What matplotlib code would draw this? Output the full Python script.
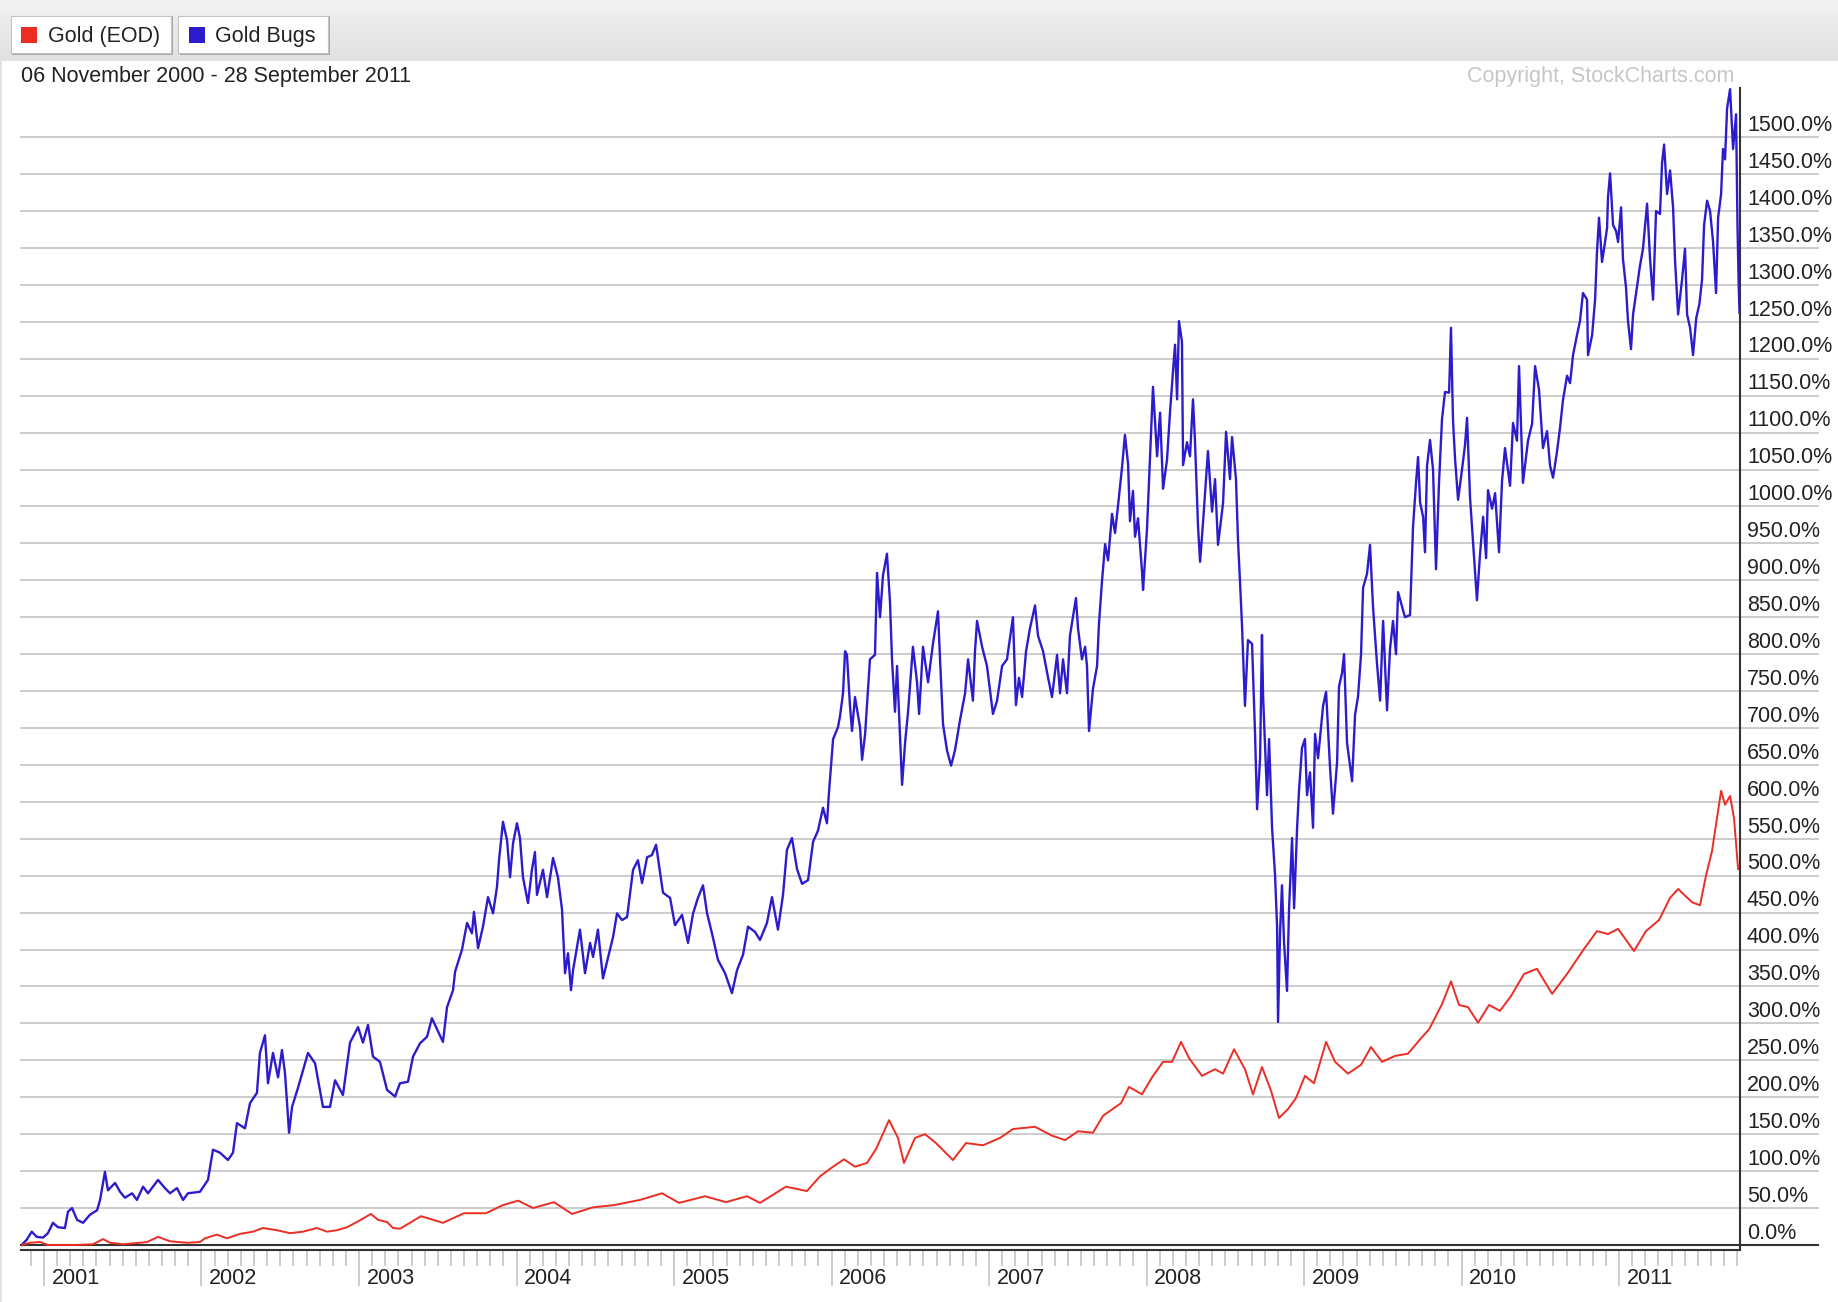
import matplotlib
matplotlib.use('Agg')
import matplotlib.pyplot as plt
import numpy as np
from matplotlib.patches import Rectangle
from matplotlib.lines import Line2D
from matplotlib.colors import LinearSegmentedColormap

plt.rcParams['font.family'] = ['Liberation Sans', 'DejaVu Sans']

# ---- data (decimal year, % change since 06 Nov 2000) ----
gold_t = [2000.86, 2000.911, 2000.975, 2001.025, 2001.102, 2001.21, 2001.311, 2001.375, 2001.419,
          2001.502, 2001.61, 2001.654, 2001.724, 2001.8, 2001.908, 2001.99, 2002.022, 2002.098,
          2002.162, 2002.244, 2002.327, 2002.39, 2002.479, 2002.562, 2002.644, 2002.733, 2002.797,
          2002.86, 2002.924, 2002.994, 2003.076, 2003.121, 2003.178, 2003.216, 2003.26, 2003.394,
          2003.533, 2003.667, 2003.806, 2003.914, 2004.01, 2004.105, 2004.238, 2004.352, 2004.486,
          2004.619, 2004.784, 2004.924, 2005.032, 2005.197, 2005.33, 2005.463, 2005.546, 2005.711,
          2005.844, 2005.927, 2006.01, 2006.079, 2006.149, 2006.225, 2006.283, 2006.365, 2006.422,
          2006.46, 2006.53, 2006.594, 2006.663, 2006.771, 2006.854, 2006.962, 2007.07, 2007.152,
          2007.292, 2007.4, 2007.483, 2007.565, 2007.66, 2007.724, 2007.838, 2007.889, 2007.971,
          2008.041, 2008.105, 2008.162, 2008.219, 2008.27, 2008.352, 2008.435, 2008.486, 2008.556,
          2008.625, 2008.676, 2008.733, 2008.79, 2008.841, 2008.898, 2008.949, 2009.006, 2009.063,
          2009.14, 2009.197, 2009.279, 2009.362, 2009.425, 2009.495, 2009.578, 2009.66, 2009.743,
          2009.794, 2009.876, 2009.933, 2009.984, 2010.041, 2010.105, 2010.175, 2010.244, 2010.314,
          2010.397, 2010.479, 2010.575, 2010.67, 2010.778, 2010.86, 2010.93, 2010.994, 2011.095,
          2011.171, 2011.254, 2011.324, 2011.375, 2011.464, 2011.514, 2011.552, 2011.59, 2011.622,
          2011.648, 2011.673, 2011.705, 2011.73, 2011.756]
gold_v = [0, 3, 4, 0, 0, 0, 1, 8, 3,
          1, 3, 4, 11, 5, 3, 4, 9, 14,
          9, 15, 18, 23, 20, 16, 18, 23, 18,
          20, 24, 32, 42, 34, 31, 23, 22, 39,
          30, 43, 43, 54, 60, 50, 58, 42, 51,
          54, 61, 70, 57, 66, 58, 66, 57, 79,
          73, 93, 106, 116, 106, 111, 130, 169, 145,
          111, 145, 150, 138, 115, 138, 135, 145, 157,
          160, 148, 142, 154, 152, 175, 192, 214, 204,
          229, 248, 248, 275, 253, 229, 238, 232, 265,
          238, 204, 241, 209, 172, 184, 199, 229, 219,
          275, 248, 232, 244, 268, 248, 256, 259, 280,
          292, 326, 357, 325, 322, 301, 325, 317, 337,
          367, 374, 340, 367, 401, 425, 421, 428, 398,
          425, 440, 470, 482, 464, 460, 500, 533, 578,
          615, 596, 608, 578, 509]

bugs_t = [2000.858, 2000.89, 2000.922, 2000.954, 2000.994, 2001.025, 2001.057, 2001.089, 2001.133,
          2001.152, 2001.178, 2001.21, 2001.248, 2001.292, 2001.337, 2001.356, 2001.387, 2001.406,
          2001.451, 2001.483, 2001.514, 2001.559, 2001.59, 2001.629, 2001.66, 2001.724, 2001.768,
          2001.8, 2001.844, 2001.883, 2001.914, 2001.99, 2002.041, 2002.073, 2002.117, 2002.168,
          2002.2, 2002.225, 2002.276, 2002.308, 2002.352, 2002.371, 2002.403, 2002.422, 2002.454,
          2002.486, 2002.511, 2002.53, 2002.556, 2002.575, 2002.613, 2002.676, 2002.721, 2002.771,
          2002.816, 2002.848, 2002.898, 2002.943, 2002.994, 2003.025, 2003.057, 2003.089, 2003.133,
          2003.178, 2003.229,
          2003.26, 2003.311, 2003.343, 2003.387, 2003.432, 2003.463, 2003.533, 2003.559, 2003.597,
          2003.61, 2003.654, 2003.686, 2003.717, 2003.73, 2003.756, 2003.787, 2003.819, 2003.851,
          2003.876, 2003.889, 2003.914, 2003.94, 2003.959, 2003.978, 2004.003, 2004.022, 2004.041,
          2004.073, 2004.098, 2004.117, 2004.13, 2004.168, 2004.194, 2004.232, 2004.263, 2004.289,
          2004.308, 2004.327, 2004.346, 2004.359, 2004.403, 2004.435, 2004.467, 2004.486, 2004.517,
          2004.549, 2004.581, 2004.613, 2004.638, 2004.67, 2004.702, 2004.74, 2004.771, 2004.797,
          2004.829, 2004.86, 2004.886, 2004.93, 2004.975, 2005.006, 2005.051, 2005.089, 2005.121,
          2005.152, 2005.184, 2005.21, 2005.241, 2005.279, 2005.324, 2005.368, 2005.4, 2005.438,
          2005.47, 2005.514, 2005.546, 2005.59, 2005.622, 2005.66,
          2005.692, 2005.717, 2005.749, 2005.781, 2005.813, 2005.851, 2005.883, 2005.914, 2005.946,
          2005.971, 2005.984, 2006.01, 2006.041, 2006.054, 2006.073, 2006.086, 2006.098, 2006.117,
          2006.13, 2006.149, 2006.181, 2006.194, 2006.213, 2006.225, 2006.244, 2006.276, 2006.289,
          2006.308, 2006.327, 2006.352, 2006.371, 2006.384, 2006.403, 2006.416, 2006.448, 2006.467,
          2006.486, 2006.517, 2006.543, 2006.556, 2006.581, 2006.613, 2006.644, 2006.676, 2006.689,
          2006.708, 2006.733, 2006.759, 2006.784, 2006.816, 2006.848, 2006.867, 2006.898, 2006.911,
          2006.924, 2006.956, 2006.987, 2007.025, 2007.051, 2007.083, 2007.114, 2007.152, 2007.171,
          2007.19, 2007.21, 2007.235, 2007.26, 2007.292, 2007.311, 2007.343, 2007.375, 2007.4,
          2007.432, 2007.451, 2007.47, 2007.495, 2007.514, 2007.552, 2007.565, 2007.59, 2007.61,
          2007.622, 2007.635, 2007.66, 2007.686, 2007.698, 2007.717, 2007.737, 2007.756, 2007.781,
          2007.8, 2007.819, 2007.844, 2007.863, 2007.883, 2007.895, 2007.914, 2007.927, 2007.946,
          2007.971, 2007.978, 2008.003,
          2008.041, 2008.067, 2008.086, 2008.105, 2008.13, 2008.149, 2008.168, 2008.181, 2008.194,
          2008.206, 2008.225, 2008.232, 2008.257, 2008.276, 2008.295, 2008.308, 2008.327, 2008.34,
          2008.359, 2008.39, 2008.416, 2008.435, 2008.454, 2008.486, 2008.505, 2008.53, 2008.543,
          2008.568, 2008.581, 2008.594, 2008.606, 2008.625, 2008.644, 2008.67, 2008.689, 2008.702,
          2008.721, 2008.733, 2008.74, 2008.765, 2008.778, 2008.797, 2008.816, 2008.829, 2008.835,
          2008.848, 2008.86, 2008.873, 2008.892, 2008.905, 2008.924, 2008.937, 2008.956, 2008.968,
          2008.987, 2009.006, 2009.019, 2009.038, 2009.057, 2009.07, 2009.089, 2009.121, 2009.14,
          2009.165, 2009.184, 2009.21, 2009.222, 2009.241, 2009.254, 2009.273, 2009.305, 2009.324,
          2009.343, 2009.362, 2009.375, 2009.4, 2009.419, 2009.438, 2009.463, 2009.483, 2009.502,
          2009.527, 2009.546, 2009.565, 2009.584, 2009.597,
          2009.641, 2009.673, 2009.692, 2009.711, 2009.724, 2009.737, 2009.756, 2009.768, 2009.781,
          2009.8, 2009.819, 2009.838, 2009.857, 2009.876, 2009.895, 2009.921, 2009.933, 2009.946,
          2009.959, 2009.978, 2010.003, 2010.022, 2010.035, 2010.054, 2010.079, 2010.098, 2010.117,
          2010.137, 2010.156, 2010.168, 2010.194, 2010.213, 2010.238, 2010.257, 2010.276, 2010.308,
          2010.327, 2010.352, 2010.365, 2010.39, 2010.422, 2010.448, 2010.467, 2010.492, 2010.517,
          2010.543, 2010.562, 2010.581, 2010.606, 2010.625, 2010.644, 2010.67, 2010.689, 2010.708,
          2010.733, 2010.752, 2010.771, 2010.797, 2010.803, 2010.829, 2010.848, 2010.86, 2010.873,
          2010.892, 2010.905, 2010.924, 2010.93, 2010.943, 2010.962, 2010.981, 2010.994, 2011.013,
          2011.025, 2011.044, 2011.057, 2011.076, 2011.089, 2011.114, 2011.133, 2011.152, 2011.178,
          2011.197, 2011.216, 2011.235, 2011.26, 2011.273, 2011.286, 2011.305, 2011.324, 2011.343,
          2011.356, 2011.375, 2011.4, 2011.419, 2011.432, 2011.451, 2011.47, 2011.49, 2011.51,
          2011.527, 2011.54, 2011.559, 2011.578, 2011.597, 2011.616, 2011.629, 2011.648, 2011.66,
          2011.673, 2011.686, 2011.705, 2011.724, 2011.743, 2011.752, 2011.76, 2011.765]
bugs_v = [0, 7, 18, 11, 10, 16, 30, 24, 23,
          45, 50, 34, 30, 41, 47, 61, 99, 74,
          84, 72, 64, 70, 61, 79, 70, 88, 77,
          70, 77, 61, 70, 72, 88, 129, 125, 115,
          125, 165, 158, 192, 206, 260, 284, 219, 260,
          227, 264, 233, 152, 187, 213, 260, 246, 187,
          187, 223, 203, 274, 295, 274, 298, 255, 248,
          210, 201,
          219, 221, 255, 273, 282, 307, 275, 322, 345,
          370, 400, 436, 422, 451, 402, 431, 471, 449,
          485, 521, 573, 548, 498, 544, 571, 551, 498,
          463, 508, 532, 474, 508, 471, 524, 498, 454,
          368, 395, 345, 372, 427, 368, 409, 390, 427,
          361, 389, 417, 449, 440, 444, 508, 521, 490,
          525, 528, 542, 477, 470, 433, 447, 409, 449,
          470, 487, 449, 422, 386, 368, 341, 372, 393,
          431, 424, 413, 436, 471, 427,
          474, 535, 551, 509, 489, 494, 546, 561, 592,
          571, 613, 685, 701, 716, 747, 804, 799, 731,
          696, 742, 701, 657, 691, 731, 793, 799, 910,
          850, 907, 936, 872, 793, 722, 784, 623, 680,
          722, 810, 762, 719, 810, 762, 814, 858, 793,
          705, 670, 649, 670, 711, 747, 793, 737, 804,
          845, 810, 784, 719, 737, 784, 793, 850, 731,
          768, 742, 804, 835, 866, 825, 804, 768, 742,
          799, 747, 793, 747, 825, 876, 835, 793, 810,
          784, 696, 753, 784, 841, 898, 949, 927, 990,
          964, 1001, 1052, 1097, 1057, 980, 1021, 959, 984,
          913, 887, 969,
          1162, 1068, 1127, 1024, 1063, 1127, 1183, 1219, 1145,
          1251, 1223, 1056, 1087, 1068, 1145, 1087, 973, 925,
          979, 1075, 993, 1037, 948, 1005, 1101, 1037, 1094,
          1037, 953, 896, 840, 730, 819, 814, 692, 590,
          659, 826, 743, 609, 685, 565, 501, 431, 302,
          424, 487, 410, 344, 456, 551, 456, 565, 615,
          673, 685, 609, 640, 565, 692, 659, 730, 749,
          647, 584, 654, 756, 774, 800, 680, 628, 718,
          743, 800, 890, 909, 948, 864, 788, 737, 845,
          724, 807, 845, 800, 884,
          850, 853, 972, 1032, 1067, 1005, 986, 938, 1055,
          1090, 1050, 915, 1032, 1118, 1155, 1154, 1242, 1116,
          1064, 1009, 1050, 1083, 1120, 1012, 934, 873, 934,
          986, 930, 1022, 997, 1018, 938, 1034, 1079, 1028,
          1113, 1089, 1190, 1032, 1089, 1112, 1190, 1158, 1079,
          1102, 1055, 1039, 1074, 1106, 1144, 1177, 1167, 1205,
          1232, 1251, 1289, 1280, 1205, 1232, 1280, 1345, 1391,
          1331, 1349, 1377, 1419, 1451, 1381, 1373, 1358, 1405,
          1335, 1297, 1251, 1213, 1260, 1297, 1326, 1349, 1410,
          1335, 1280, 1400, 1396, 1465, 1490, 1423, 1455, 1405,
          1331, 1260, 1307, 1349, 1260, 1242, 1205, 1255, 1274,
          1307, 1381, 1414, 1400, 1358, 1289, 1391, 1423, 1484,
          1470, 1539, 1565, 1484, 1531, 1381, 1297, 1262]

series_names = ['Gold (EOD)', 'Gold Bugs']
series_colors = ['#ec2d24', '#2c1ccc']
grid_levels = list(range(0, 1501, 50))
years = list(range(2001, 2012))
date_range = '06 November 2000 - 28 September 2011'
credit = 'Copyright, StockCharts.com'

W, H = 1838, 1302
fig = plt.figure(figsize=(W / 100, H / 100), dpi=100)
fig.patch.set_facecolor('white')


def fx(x):
    return x / W


def fy(y):
    return 1 - y / H


# header band
hdr = fig.add_axes([0, fy(61), 1, 61 / H])
grad = np.linspace(0, 1, 64).reshape(-1, 1)
hdr.imshow(grad, aspect='auto', extent=[0, 1, 0, 1],
           cmap=LinearSegmentedColormap.from_list('hdr', ['#f2f2f2', '#e9e9e9', '#e1e1e1']))
hdr.axis('off')

# legend buttons
boxes = [(10.5, 171), (178, 328)]
for (x0, x1), name, col in zip(boxes, series_names, series_colors):
    fig.patches.append(Rectangle((fx(x0 + 1.5), fy(54.5)), fx(x1 - x0), 38 / H,
                                 transform=fig.transFigure, facecolor='#a8a8a8', edgecolor='none', zorder=2))
    fig.patches.append(Rectangle((fx(x0), fy(53)), fx(x1 - x0), 37 / H,
                                 transform=fig.transFigure, facecolor='white', edgecolor='#c4c4c4',
                                 lw=0.8, zorder=3))
    fig.patches.append(Rectangle((fx(x0 + 10.5), fy(42.5)), fx(16), 15.5 / H,
                                 transform=fig.transFigure, facecolor=col, edgecolor='none', zorder=4))
    fig.text(fx(x0 + 37), fy(42), name, fontsize=15.5, color='#222222', ha='left', va='baseline', zorder=5)

fig.text(fx(21), fy(82), date_range, fontsize=15.5, color='#222222', ha='left', va='baseline')
fig.text(fx(1734), fy(82), credit, fontsize=15.5, color='#c6c6c6', ha='right', va='baseline')

# thin page border on the left
fig.lines.append(Line2D([fx(1), fx(1)], [0, fy(61)], transform=fig.transFigure, color='#dddddd', lw=1.2))

# main plot
ax = fig.add_axes([fx(21), fy(1250), (1740 - 21) / W, (1250 - 88) / H])
ax.set_xlim(2000.854, 2011.768)
ax.set_ylim(-6.8, 1566.6)
ax.set_facecolor('none')

ext = (1818 - 21) / (1740 - 21)
for lv in grid_levels:
    if lv == 0:
        ax.axhline(lv, xmin=0, xmax=ext, color='#333333', lw=1.5, clip_on=False, zorder=2)
    else:
        ax.axhline(lv, xmin=0, xmax=ext, color='#c8c8c8', lw=1.3, clip_on=False, zorder=1)
    ax.annotate('%.1f%%' % lv, xy=(1, lv), xycoords=('axes fraction', 'data'),
                xytext=(5, 4.5), textcoords='offset points', ha='left', va='baseline',
                fontsize=15.5, color='#222222', annotation_clip=False)

ax.plot(bugs_t, bugs_v, color=series_colors[1], lw=1.7, zorder=3)
ax.plot(gold_t, gold_v, color=series_colors[0], lw=1.4, zorder=3)

for side in ['top', 'left']:
    ax.spines[side].set_visible(False)
for side in ['right', 'bottom']:
    ax.spines[side].set_color('#333333')
    ax.spines[side].set_linewidth(1.5)

ax.set_yticks([])
months = [y + m / 12 for y in range(2000, 2012) for m in range(12)]
months = [m for m in months if 2000.854 < m < 2011.768 and abs(m - round(m)) > 1e-6]
ax.set_xticks(years)
ax.set_xticks(months, minor=True)
ax.set_xticklabels([])
ax.tick_params(axis='x', which='major', length=26, width=1.4, color='#cccccc', direction='out')
ax.tick_params(axis='x', which='minor', length=11.5, width=1.4, color='#cccccc', direction='out')
for yr in years:
    ax.annotate(str(yr), xy=(yr, 0), xycoords=('data', 'axes fraction'),
                xytext=(5.5, -24.5), textcoords='offset points', ha='left', va='baseline',
                fontsize=15.5, color='#222222', annotation_clip=False)

fig.savefig('out.png', dpi=100)
